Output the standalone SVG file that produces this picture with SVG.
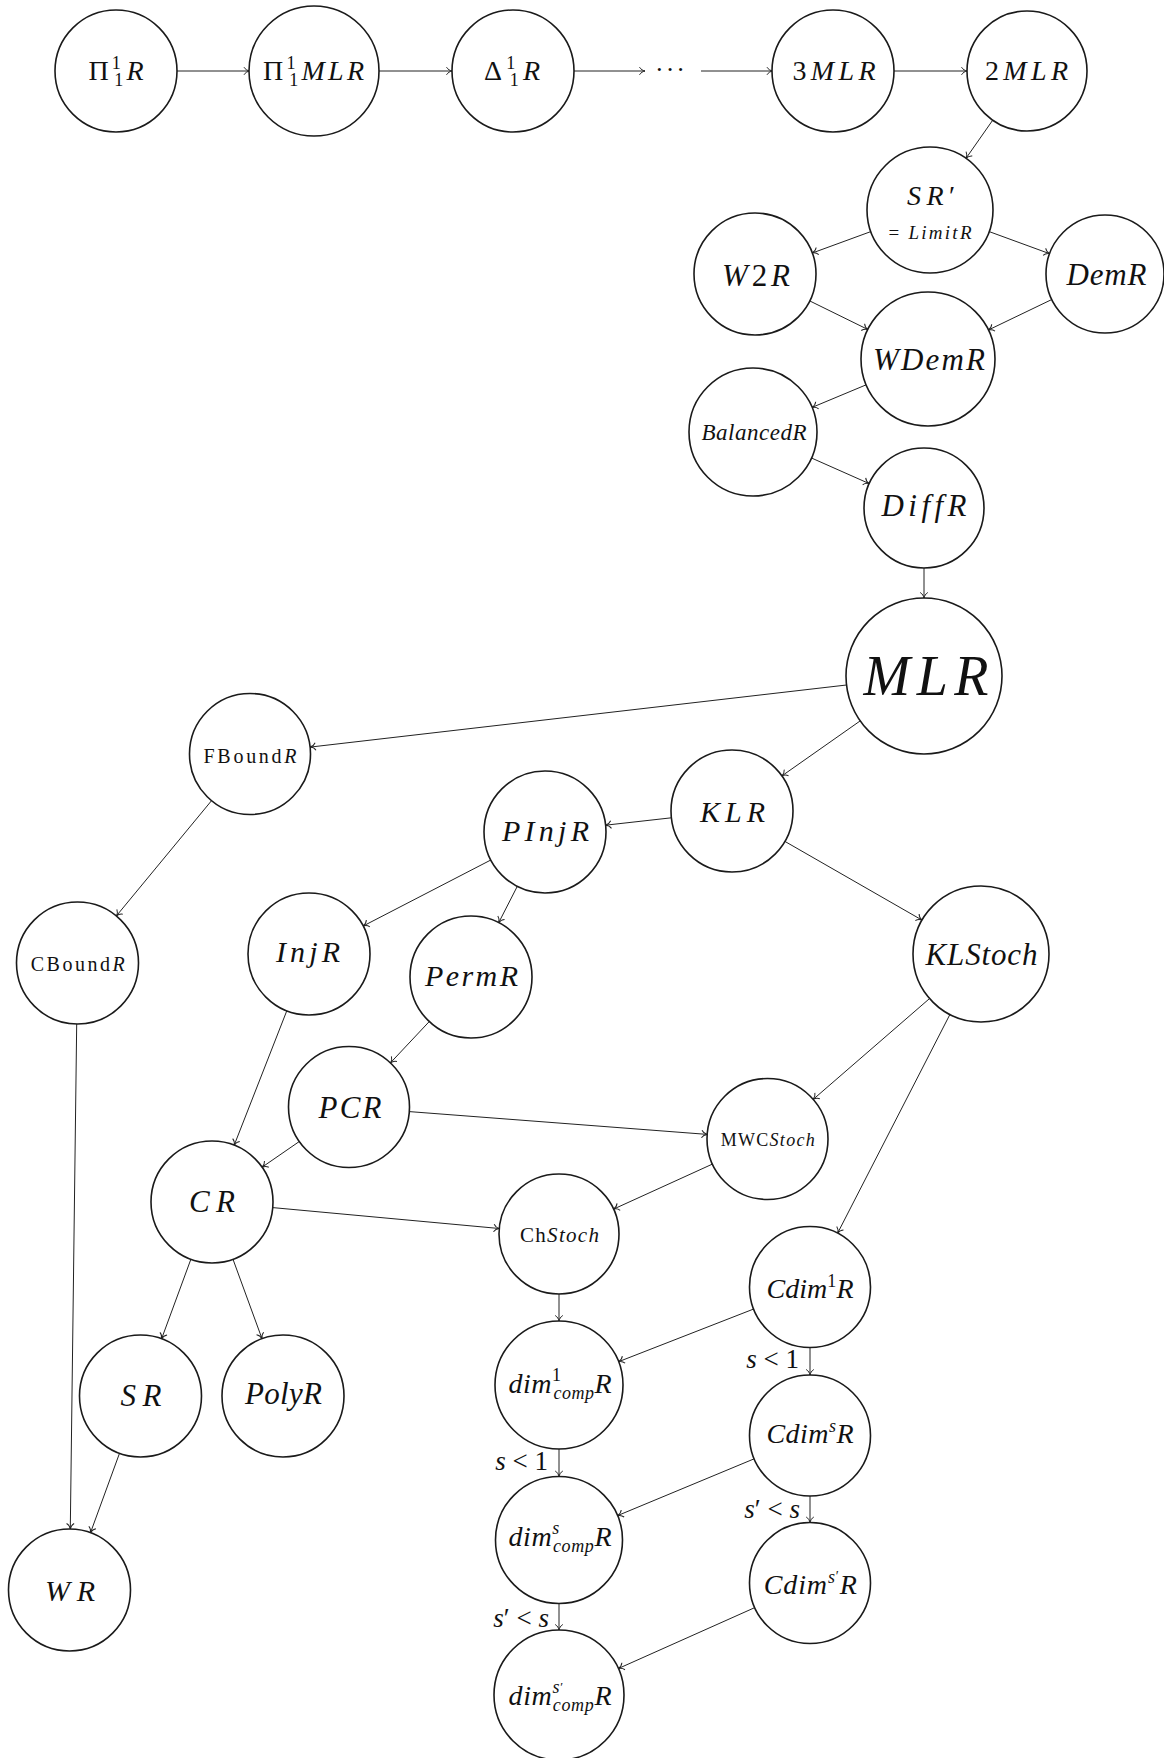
<svg xmlns="http://www.w3.org/2000/svg" width="1164" height="1758" viewBox="0 0 1164 1758">
<defs>
<style>
.n circle{fill:#fff;stroke:#1a1a1a;stroke-width:1.6}
text{font-family:"Liberation Serif","DejaVu Serif",serif;font-style:italic;text-anchor:middle;fill:#111}
.u{font-style:normal}
#edges line{stroke:#222;stroke-width:1;fill:none;marker-end:url(#arr)}
.lbl{text-anchor:end}
</style>
<marker id="arr" markerUnits="userSpaceOnUse" markerWidth="12" markerHeight="12" viewBox="-7 -6 8 12" refX="0" refY="0" orient="auto">
<path d="M-5.5,-3.8 C-4.3,-1.6 -1.6,-0.3 0,0 C-1.6,0.3 -4.3,1.6 -5.5,3.8" fill="none" stroke="#222" stroke-width="1"/>
</marker>
</defs>
<rect width="1164" height="1758" fill="#fff"/>

<g id="edges">
<line x1="177" y1="71" x2="249.5" y2="71"/>
<line x1="379" y1="71" x2="452" y2="71"/>
<line x1="574" y1="71" x2="645" y2="71"/>
<line x1="701" y1="71" x2="772.5" y2="71"/>
<line x1="894" y1="71" x2="967" y2="71"/>
<line x1="992.7" y1="120.2" x2="966" y2="158.3"/>
<line x1="870.8" y1="231.6" x2="812.3" y2="253"/>
<line x1="989.2" y1="231.6" x2="1049.6" y2="253.7"/>
<line x1="809.7" y1="300.9" x2="867.9" y2="329.5"/>
<line x1="1051.8" y1="299.5" x2="988.4" y2="330"/>
<line x1="866.2" y1="384.8" x2="812.1" y2="407.4"/>
<line x1="811.5" y1="458" x2="869.2" y2="483.6"/>
<line x1="924" y1="568" x2="924" y2="598"/>
<line x1="846.5" y1="685" x2="310.1" y2="747.1"/>
<line x1="860.2" y1="720.9" x2="781.9" y2="775.9"/>
<line x1="671.4" y1="817.8" x2="605.6" y2="825.2"/>
<line x1="784.9" y1="841.4" x2="922" y2="920.1"/>
<line x1="211.5" y1="800.7" x2="116.3" y2="916"/>
<line x1="490.8" y1="860" x2="363.2" y2="926"/>
<line x1="517.3" y1="886.3" x2="498.7" y2="922.7"/>
<line x1="76.7" y1="1024" x2="70.3" y2="1529"/>
<line x1="286.8" y1="1010.8" x2="234.2" y2="1145.2"/>
<line x1="429.3" y1="1021.5" x2="390.4" y2="1062.9"/>
<line x1="929.6" y1="998.5" x2="813.2" y2="1099.4"/>
<line x1="949.9" y1="1014.5" x2="837.6" y2="1233.2"/>
<line x1="409.3" y1="1111.6" x2="707.2" y2="1134.4"/>
<line x1="299.3" y1="1141.5" x2="262.1" y2="1167.2"/>
<line x1="712.4" y1="1164.1" x2="613.6" y2="1209.1"/>
<line x1="272.7" y1="1207.6" x2="499.3" y2="1228.5"/>
<line x1="190.9" y1="1259.2" x2="161.6" y2="1338.8"/>
<line x1="233" y1="1259.3" x2="262" y2="1338.7"/>
<line x1="119.5" y1="1453.3" x2="90.5" y2="1532.7"/>
<line x1="559" y1="1294" x2="559" y2="1321"/>
<line x1="753.7" y1="1309" x2="618.6" y2="1361.7"/>
<line x1="810" y1="1347.5" x2="810" y2="1375"/>
<line x1="559" y1="1449" x2="559" y2="1476.5"/>
<line x1="810" y1="1496" x2="810" y2="1522.5"/>
<line x1="559" y1="1603.5" x2="559" y2="1630"/>
<line x1="754.2" y1="1458.8" x2="617.6" y2="1515.6"/>
<line x1="754.8" y1="1607.6" x2="618.4" y2="1668.5"/>
<text x="670" y="78" font-size="26" class="u" textLength="30" lengthAdjust="spacing">· · ·</text>
<text class="lbl" x="799" y="1368" font-size="27">s <tspan class="u">&lt; 1</tspan></text>
<text class="lbl" x="548" y="1470" font-size="27">s <tspan class="u">&lt; 1</tspan></text>
<text class="lbl" x="800" y="1518" font-size="27">s<tspan class="u">′ &lt; </tspan>s</text>
<text class="lbl" x="549" y="1627" font-size="27">s<tspan class="u">′ &lt; </tspan>s</text>
</g>

<g id="n_pi11R" class="n"><circle cx="116" cy="71" r="61"/><text x="116" y="80" font-size="28" textLength="55" lengthAdjust="spacing"><tspan class="u">Π</tspan><tspan class="u" font-size="18" dy="-11">1</tspan><tspan class="u" font-size="18" dx="-9" dy="17">1</tspan><tspan dy="-6">R</tspan></text></g>
<g id="n_pi11MLR" class="n"><circle cx="314" cy="71" r="65"/><text x="313.5" y="80" font-size="28" textLength="101" lengthAdjust="spacing"><tspan class="u">Π</tspan><tspan class="u" font-size="18" dy="-11">1</tspan><tspan class="u" font-size="18" dx="-9" dy="17">1</tspan><tspan dy="-6">MLR</tspan></text></g>
<g id="n_delta11R" class="n"><circle cx="513" cy="71" r="61"/><text x="512" y="80" font-size="28" textLength="56" lengthAdjust="spacing"><tspan class="u">Δ</tspan><tspan class="u" font-size="18" dy="-11">1</tspan><tspan class="u" font-size="18" dx="-9" dy="17">1</tspan><tspan dy="-6">R</tspan></text></g>
<g id="n_3MLR" class="n"><circle cx="833" cy="71" r="61"/><text x="834" y="80" font-size="28" textLength="83" lengthAdjust="spacing"><tspan class="u">3</tspan>MLR</text></g>
<g id="n_2MLR" class="n"><circle cx="1027" cy="71" r="60"/><text x="1026.5" y="80" font-size="28" textLength="83" lengthAdjust="spacing"><tspan class="u">2</tspan>MLR</text></g>
<g id="n_SRp" class="n"><circle cx="930" cy="210" r="63"/><text x="931" y="205" font-size="28" textLength="48" lengthAdjust="spacing">SR<tspan class="u">′</tspan></text><text x="930" y="238.5" font-size="19" textLength="83" lengthAdjust="spacing"><tspan class="u">= </tspan>LimitR</text></g>
<g id="n_W2R" class="n"><circle cx="755" cy="274" r="61"/><text x="756" y="286" font-size="31" textLength="68" lengthAdjust="spacing">W<tspan class="u">2</tspan>R</text></g>
<g id="n_DemR" class="n"><circle cx="1105" cy="274" r="59"/><text x="1106.5" y="285" font-size="31" textLength="80" lengthAdjust="spacing">DemR</text></g>
<g id="n_WDemR" class="n"><circle cx="928" cy="359" r="67"/><text x="929" y="370" font-size="31" textLength="112" lengthAdjust="spacing">WDemR</text></g>
<g id="n_BalancedR" class="n"><circle cx="753" cy="432" r="64"/><text x="754" y="439.5" font-size="23" textLength="105" lengthAdjust="spacing">BalancedR</text></g>
<g id="n_DiffR" class="n"><circle cx="924" cy="508" r="60"/><text x="924" y="516" font-size="31" textLength="85" lengthAdjust="spacing">DiffR</text></g>
<g id="n_MLR" class="n"><circle cx="924" cy="676" r="78"/><text x="926" y="695" font-size="56" textLength="125" lengthAdjust="spacing">MLR</text></g>
<g id="n_KLR" class="n"><circle cx="732" cy="811" r="61"/><text x="732.5" y="821.5" font-size="30" textLength="65" lengthAdjust="spacing">KLR</text></g>
<g id="n_FBoundR" class="n"><circle cx="250" cy="754" r="60.5"/><text x="250" y="762.7" font-size="20" textLength="93" lengthAdjust="spacing"><tspan class="u">FBound</tspan>R</text></g>
<g id="n_PInjR" class="n"><circle cx="545" cy="832" r="61"/><text x="545.5" y="841" font-size="30" textLength="87" lengthAdjust="spacing">PInjR</text></g>
<g id="n_CBoundR" class="n"><circle cx="77.5" cy="963" r="61"/><text x="77.7" y="970.7" font-size="20" textLength="94" lengthAdjust="spacing"><tspan class="u">CBound</tspan>R</text></g>
<g id="n_InjR" class="n"><circle cx="309" cy="954" r="61"/><text x="308" y="962" font-size="30" textLength="64" lengthAdjust="spacing">InjR</text></g>
<g id="n_PermR" class="n"><circle cx="471" cy="977" r="61"/><text x="471.5" y="986" font-size="30" textLength="93" lengthAdjust="spacing">PermR</text></g>
<g id="n_KLStoch" class="n"><circle cx="981" cy="954" r="68"/><text x="981.5" y="965" font-size="31" textLength="112" lengthAdjust="spacing">KLStoch</text></g>
<g id="n_PCR" class="n"><circle cx="349" cy="1107" r="60.5"/><text x="350" y="1118" font-size="31" textLength="63" lengthAdjust="spacing">PCR</text></g>
<g id="n_MWCStoch" class="n"><circle cx="767.5" cy="1139" r="60.5"/><text x="767.7" y="1145.7" font-size="18" textLength="94" lengthAdjust="spacing"><tspan class="u">MWC</tspan>Stoch</text></g>
<g id="n_CR" class="n"><circle cx="212" cy="1202" r="61"/><text x="212" y="1212" font-size="31" textLength="46" lengthAdjust="spacing">CR</text></g>
<g id="n_ChStoch" class="n"><circle cx="559" cy="1234" r="60"/><text x="559.5" y="1241.7" font-size="21" textLength="79" lengthAdjust="spacing"><tspan class="u">Ch</tspan>Stoch</text></g>
<g id="n_SR" class="n"><circle cx="140.5" cy="1396" r="61"/><text x="141" y="1406" font-size="31" textLength="41" lengthAdjust="spacing">SR</text></g>
<g id="n_PolyR" class="n"><circle cx="283" cy="1396" r="61"/><text x="283.5" y="1404" font-size="31" textLength="77" lengthAdjust="spacing">PolyR</text></g>
<g id="n_Cdim1R" class="n"><circle cx="810" cy="1287" r="60.5"/><text x="810" y="1298" font-size="28" textLength="87" lengthAdjust="spacing">Cdim<tspan class="u" font-size="18" dy="-11">1</tspan><tspan dy="11">R</tspan></text></g>
<g id="n_dim1" class="n"><circle cx="559" cy="1385" r="64"/><text x="560" y="1393" font-size="28" textLength="103" lengthAdjust="spacing">dim<tspan class="u" font-size="18" dy="-12">1</tspan><tspan font-size="18" dx="-8" dy="18">comp</tspan><tspan dy="-6">R</tspan></text></g>
<g id="n_Cdims" class="n"><circle cx="810" cy="1435.5" r="60.5"/><text x="810" y="1443" font-size="28" textLength="87" lengthAdjust="spacing">Cdim<tspan font-size="18" dy="-11">s</tspan><tspan dy="11">R</tspan></text></g>
<g id="n_dims" class="n"><circle cx="559" cy="1540" r="63.5"/><text x="560" y="1546" font-size="28" textLength="103" lengthAdjust="spacing">dim<tspan font-size="18" dy="-12">s</tspan><tspan font-size="18" dx="-7" dy="18">comp</tspan><tspan dy="-6">R</tspan></text></g>
<g id="n_Cdimsp" class="n"><circle cx="810" cy="1583" r="60.5"/><text x="810.3" y="1594" font-size="28" textLength="93" lengthAdjust="spacing">Cdim<tspan font-size="18" dy="-11">s</tspan><tspan class="u" font-size="14" dy="-2">′</tspan><tspan dy="13">R</tspan></text></g>
<g id="n_dimsp" class="n"><circle cx="559" cy="1695" r="65"/><text x="560" y="1705" font-size="28" textLength="103" lengthAdjust="spacing">dim<tspan font-size="18" dy="-12">s</tspan><tspan class="u" font-size="13" dy="-2">′</tspan><tspan font-size="18" dx="-11" dy="20">comp</tspan><tspan dy="-6">R</tspan></text></g>
<g id="n_WR" class="n"><circle cx="69.5" cy="1590" r="61"/><text x="70" y="1600.7" font-size="30" textLength="50" lengthAdjust="spacing">WR</text></g>
</svg>
